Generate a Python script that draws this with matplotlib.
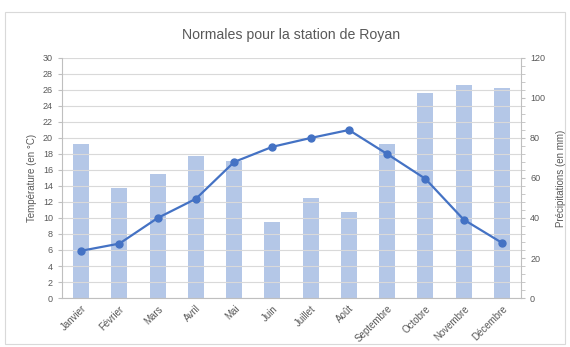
import numpy as np
import matplotlib.pyplot as plt
from matplotlib.patches import Rectangle

plt.rcParams['font.family'] = ['Liberation Sans Narrow', 'Liberation Sans', 'DejaVu Sans']

mois = ['Janvier', 'Février', 'Mars', 'Avril', 'Mai', 'Juin', 'Juillet', 'Août',
        'Septembre', 'Octobre', 'Novembre', 'Décembre']
precip = [77, 55, 62, 71, 68.5, 38, 50, 43, 77, 102.5, 106.5, 105]
temp = [5.9, 6.8, 10.0, 12.4, 17.0, 18.9, 20.0, 21.0, 18.0, 14.9, 9.8, 6.9]

grey = '#595959'
fig = plt.figure(figsize=(5.7, 3.47), dpi=100)
fig.patches.append(Rectangle((0.008, 0.01), 0.984, 0.955, transform=fig.transFigure,
                             fill=False, edgecolor='#d9d9d9', lw=0.8))

ax = fig.add_axes([0.1088, 0.1412, 0.8053, 0.6917])
ax2 = ax.twinx()
x = np.arange(len(mois))

# bars on right axis (precipitations), line on left axis (temperature)
ax2.bar(x, precip, width=0.42, color='#b4c7e7', zorder=1)
ax2.set_ylim(0, 120)
ax2.set_yticks(range(0, 121, 20))
ax2.set_yticks(range(0, 121, 4), minor=True)

ax.set_zorder(ax2.get_zorder() + 1)
ax.patch.set_visible(False)
ax.plot(x, temp, '-o', color='#4472c4', lw=1.6, ms=5, zorder=3)
ax.set_ylim(0, 30)
ax.set_yticks(range(0, 31, 2))
ax.set_xlim(-0.5, 11.5)
ax.set_xticks(x)
ax.set_xticklabels(mois, rotation=45, ha='right', rotation_mode='anchor')
ax.grid(axis='y', color='#d9d9d9', lw=0.8)
ax.set_axisbelow(True)

for a in (ax, ax2):
    for s in a.spines.values():
        s.set_visible(False)
    a.tick_params(labelsize=6.5, colors=grey, length=0)
ax.tick_params(axis='x', labelsize=7, pad=4)
ax.spines['left'].set_visible(True)
ax.spines['left'].set_color('#bfbfbf')
ax.spines['bottom'].set_visible(True)
ax.spines['bottom'].set_color('#bfbfbf')
ax2.spines['right'].set_visible(True)
ax2.spines['right'].set_color('#bfbfbf')
ax2.tick_params(axis='y', which='both', length=3, color='#bfbfbf')
ax.tick_params(axis='y', length=3, color='#bfbfbf')

ax.set_ylabel('Température (en °C)', fontsize=7, color=grey, labelpad=4)
ax2.set_ylabel('Précipitations (en mm)', fontsize=7, color=grey, labelpad=8)
ax.set_title('Normales pour la station de Royan', fontsize=10.2, color=grey, pad=14)

fig.savefig('out.png', dpi=100)
